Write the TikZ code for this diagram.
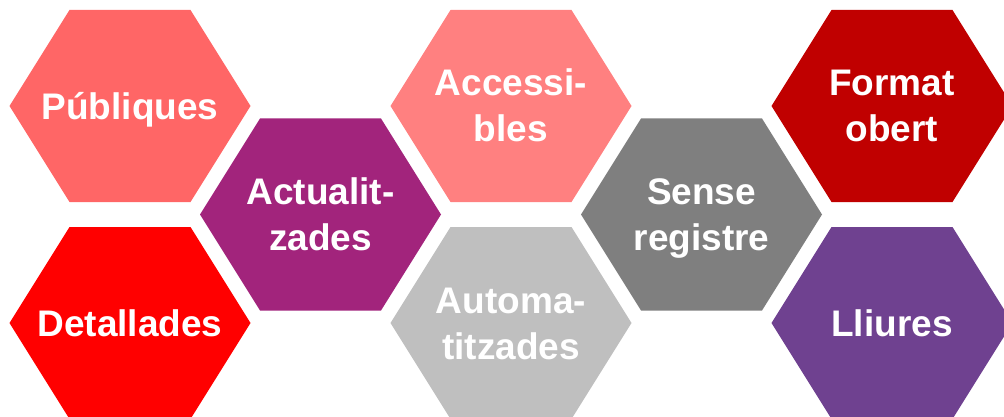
\documentclass[tikz,border=0pt]{standalone}
\usepackage{fontspec}
\setmainfont{Liberation Sans}
\definecolor{cPub}{HTML}{FF6666}
\definecolor{cAct}{HTML}{A2247C}
\definecolor{cDet}{HTML}{FF0000}
\definecolor{cAcc}{HTML}{FF8080}
\definecolor{cAut}{HTML}{BFBFBF}
\definecolor{cSen}{HTML}{7F7F7F}
\definecolor{cFor}{HTML}{C00000}
\definecolor{cLli}{HTML}{6F4190}
\tikzset{
  hexlabel/.style={anchor=base,inner sep=0pt,text=white,font=\fontsize{37}{44}\selectfont\bfseries}
}
\newcommand\hexshape[3]{% cx, cy, colour
  \fill[#3] (#1-120.5,#2) -- (#1-60.5,#2-96) -- (#1+60.5,#2-96) -- (#1+120.5,#2) -- (#1+60.5,#2+96) -- (#1-60.5,#2+96) -- cycle;}
\begin{document}
\begin{tikzpicture}[x=1pt,y=-1pt]
\useasboundingbox (0,0) rectangle (1004,417);
% column 1
\hexshape{130}{106}{cPub}
\node[hexlabel] (pub) at (130,119.5) {Públiques};
\hexshape{130}{323}{cDet}
\node[hexlabel] (det) at (130,336.5) {Detallades};
% column 2
\hexshape{320.5}{214.5}{cAct}
\node[hexlabel] (act1) at (320.5,204.5) {Actualit-};
\node[hexlabel] (act2) at (320.5,250.5) {zades};
% column 3
\hexshape{511}{106}{cAcc}
\node[hexlabel] (acc1) at (511,96) {Accessi-};
\node[hexlabel] (acc2) at (511,142) {bles};
\hexshape{511}{323}{cAut}
\node[hexlabel] (aut1) at (511,313) {Automa-};
\node[hexlabel] (aut2) at (511,359) {titzades};
% column 4
\hexshape{701.5}{214.5}{cSen}
\node[hexlabel] (sen1) at (701.5,204.5) {Sense};
\node[hexlabel] (sen2) at (701.5,250.5) {registre};
% column 5
\hexshape{892}{106}{cFor}
\node[hexlabel] (for1) at (892,96) {Format};
\node[hexlabel] (for2) at (892,142) {obert};
\hexshape{892}{323}{cLli}
\node[hexlabel] (lli) at (892,336.5) {Lliures};
\end{tikzpicture}
\end{document}
